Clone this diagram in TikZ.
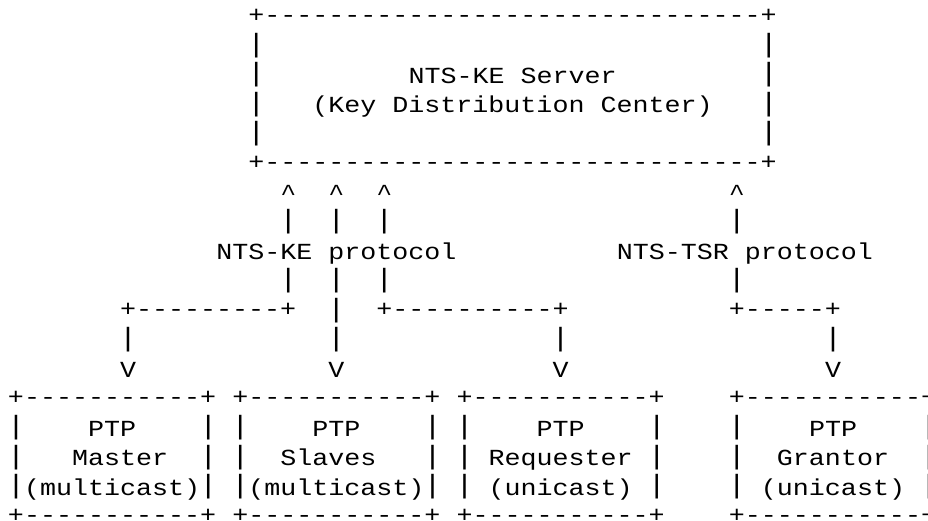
\documentclass[tikz,border=0pt]{standalone}
\usepackage{fontspec}
% Courier-width monospace, widened so one character cell is 16.02pt
\setmonofont[FakeStretch=1.16]{Liberation Mono}
\newcommand\ascfont{\ttfamily\fontsize{23}{28}\selectfont}
\newcommand\barfont{\ttfamily\fontsize{26.5}{28}\selectfont}
\tikzset{
  asc/.style={inner sep=0pt, outer sep=0pt, anchor=base west, font=\ascfont, text=black},
  ascbar/.style={inner sep=0pt, outer sep=0pt, anchor=base, font=\barfont, text=black}
}
% \glyphs{name}{row}{column}{text}: places text on the character grid
\newcommand\glyphs[4]{\node[asc] (#1) at ({8+16.02*#3},{-24.5-29.41*#2}) {#4};}
% \rule lines of + and - sit a little higher in their row
\newcommand\edge[4]{\node[asc] (#1) at ({8+16.02*#3},{-22.5-29.41*#2}) {#4};}
% \vbar{name}{row}{column}: one tall | centred in its cell
\newcommand\vbar[3]{\node[ascbar] (#1) at ({16+16.02*#3},{-23-29.41*#2}) {|};}
\newcommand\dashes{-----}
\begin{document}
\begin{tikzpicture}[x=1pt,y=1pt]
\useasboundingbox (0,0) rectangle (928,-521);

% key distribution server box
\edge{kdctop}{0}{15}{+\dashes\dashes\dashes\dashes\dashes\dashes-+}
\foreach \r in {1,2,3,4} {
  \vbar{kdcl\r}{\r}{15}
  \vbar{kdcr\r}{\r}{47}
}
\glyphs{kdcname}{2}{25}{NTS-KE Server}
\glyphs{kdcsub}{3}{19}{(Key Distribution Center)}
\edge{kdcbot}{5}{15}{+\dashes\dashes\dashes\dashes\dashes\dashes-+}

% arrows up to the server
\foreach \c in {17,20,23,45} {
  \glyphs{caret\c}{6}{\c}{\textasciicircum}
  \vbar{upa\c}{7}{\c}
  \vbar{upb\c}{9}{\c}
}
\glyphs{keproto}{8}{13}{NTS-KE protocol}
\glyphs{tsrproto}{8}{38}{NTS-TSR protocol}

% branches down to the PTP boxes
\edge{branchl}{10}{7}{+\dashes----+}
\vbar{branchm}{10}{20}
\edge{branchr}{10}{23}{+\dashes\dashes+}
\edge{branchg}{10}{45}{+\dashes+}
\foreach \c in {7,20,34,51} {
  \vbar{down\c}{11}{\c}
  \glyphs{vee\c}{12}{\c}{V}
}

% PTP boxes
\foreach \c/\e in {0/12,14/26,28/40,45/57} {
  \edge{boxtop\c}{13}{\c}{+\dashes\dashes-+}
  \edge{boxbot\c}{17}{\c}{+\dashes\dashes-+}
  \foreach \r in {14,15,16} {
    \vbar{bl\c r\r}{\r}{\c}
    \vbar{br\c r\r}{\r}{\e}
  }
}
\glyphs{ptpa}{14}{5}{PTP}
\glyphs{ptpb}{14}{19}{PTP}
\glyphs{ptpc}{14}{33}{PTP}
\glyphs{ptpd}{14}{50}{PTP}
\glyphs{master}{15}{4}{Master}
\glyphs{slaves}{15}{17}{Slaves}
\glyphs{requester}{15}{30}{Requester}
\glyphs{grantor}{15}{48}{Grantor}
\glyphs{modea}{16}{1}{(multicast)}
\glyphs{modeb}{16}{15}{(multicast)}
\glyphs{modec}{16}{30}{(unicast)}
\glyphs{moded}{16}{47}{(unicast)}
\end{tikzpicture}
\end{document}
